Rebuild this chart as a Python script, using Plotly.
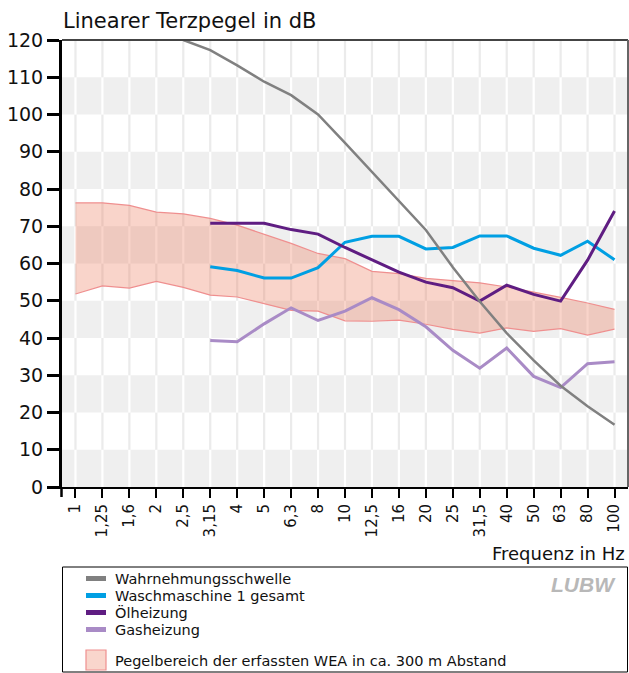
import plotly.graph_objects as go

# ---------------- data ----------------
FREQ_LABELS = ["1", "1,25", "1,6", "2", "2,5", "3,15", "4", "5", "6,3", "8", "10",
               "12,5", "16", "20", "25", "31,5", "40", "50", "63", "80", "100"]
Y_TICKS = list(range(0, 121, 10))

SERIES_NAMES = ["Wahrnehmungsschwelle", "Waschmaschine 1 gesamt", "Ölheizung", "Gasheizung"]
BAND_NAME = "Pegelbereich der erfassten WEA in ca. 300 m Abstand"

WAHRNEHMUNG = [None, None, None, None, 120.0, 117.3, 113.2, 108.8, 105.2, 100.0, 92.4,
               84.6, 77.0, 69.0, 59.0, 49.8, 41.3, 34.0, 27.2, 21.7, 16.7]
WASCHMASCHINE = [None, None, None, None, None, 59.1, 58.1, 56.1, 56.1, 58.9, 65.7,
                 67.3, 67.3, 63.9, 64.3, 67.4, 67.4, 64.1, 62.2, 66.0, 61.0]
OELHEIZUNG = [None, None, None, None, None, 70.8, 70.8, 70.8, 69.1, 67.9, 64.3,
              61.1, 57.7, 55.0, 53.5, 49.9, 54.2, 51.7, 49.9, 60.9, 74.1]
GASHEIZUNG = [None, None, None, None, None, 39.3, 39.0, 43.8, 48.1, 44.7, 47.2,
              50.8, 47.6, 43.0, 36.7, 31.9, 37.3, 29.7, 26.7, 33.1, 33.6]
WEA_MAX = [76.3, 76.3, 75.6, 73.8, 73.3, 72.1, 70.3, 67.9, 65.4, 62.7, 61.3,
           57.9, 57.3, 56.0, 55.5, 54.8, 53.7, 52.4, 50.9, 49.4, 47.7]
WEA_MIN = [51.8, 54.0, 53.4, 55.2, 53.6, 51.5, 51.0, 49.1, 47.4, 47.2, 44.6,
           44.5, 44.8, 43.7, 42.3, 41.3, 42.7, 41.8, 42.5, 40.8, 42.4]

# ---------------- style ----------------
FONT = "DejaVu Sans"
C_GRAY = "#808080"
C_BLUE = "#009fe3"
C_PURPLE = "#5f1d82"
C_LAV = "#a98bc6"
C_BAND_LINE = "#ef8f8f"
C_BAND_FILL = "rgba(234,112,80,0.30)"
C_BAND_SWATCH = "#f9d6cc"
BAND_GREY = "#efefef"

W, H = 629, 673
L, R, T, B = 62, 628, 40, 487
PW, PH = R - L, B - T


def fx(px):
    return (px - L) / PW


def fy(py):
    return (B - py) / PH


xpos = list(range(len(FREQ_LABELS)))

fig = go.Figure()
# WEA band
fig.add_trace(go.Scatter(x=xpos, y=WEA_MIN, mode="lines",
                         line=dict(color=C_BAND_LINE, width=1.2), showlegend=False,
                         hoverinfo="skip"))
fig.add_trace(go.Scatter(x=xpos, y=WEA_MAX, mode="lines", fill="tonexty",
                         fillcolor=C_BAND_FILL, line=dict(color=C_BAND_LINE, width=1.2),
                         name=BAND_NAME, showlegend=False))
# series (threshold curve on top)
fig.add_trace(go.Scatter(x=xpos, y=GASHEIZUNG, mode="lines", name=SERIES_NAMES[3],
                         line=dict(color=C_LAV, width=3), showlegend=False))
fig.add_trace(go.Scatter(x=xpos, y=WASCHMASCHINE, mode="lines", name=SERIES_NAMES[1],
                         line=dict(color=C_BLUE, width=3), showlegend=False))
fig.add_trace(go.Scatter(x=xpos, y=OELHEIZUNG, mode="lines", name=SERIES_NAMES[2],
                         line=dict(color=C_PURPLE, width=3), showlegend=False))
fig.add_trace(go.Scatter(x=xpos, y=WAHRNEHMUNG, mode="lines", name=SERIES_NAMES[0],
                         line=dict(color=C_GRAY, width=2.5), showlegend=False))

shapes = []
# alternating horizontal bands + vertical grid lines per band
for k in range(0, Y_TICKS[-1], 10):
    grey = (k // 10) % 2 == 0
    if grey:
        shapes.append(dict(type="rect", xref="paper", yref="y", x0=0, x1=1, y0=k, y1=k + 10,
                           fillcolor=BAND_GREY, line=dict(width=0), layer="below"))
    path = " ".join(f"M{i},{k} L{i},{k + 10}" for i in xpos)
    shapes.append(dict(type="path", xref="x", yref="y", path=path,
                       line=dict(color="#ffffff" if grey else "#ebebeb", width=2.2),
                       layer="below"))
# frame top / right
shapes.append(dict(type="line", xref="paper", yref="paper", x0=0, x1=1, y0=1, y1=1,
                   line=dict(color="#444444", width=2)))
shapes.append(dict(type="line", xref="paper", yref="paper", x0=1, x1=1, y0=0, y1=1,
                   line=dict(color="#666666", width=2)))
# left end tick below the x axis
shapes.append(dict(type="line", xref="paper", yref="paper", x0=fx(L - 0.5), x1=fx(L - 0.5),
                   y0=fy(B), y1=fy(B + 10), line=dict(color="black", width=2.5)))

# ---------------- custom legend ----------------
shapes.append(dict(type="rect", xref="paper", yref="paper", x0=fx(62.5), x1=fx(627.5),
                   y0=fy(567), y1=fy(672), line=dict(color="black", width=1),
                   fillcolor="rgba(0,0,0,0)"))
legend_rows = [(SERIES_NAMES[0], C_GRAY, 578.5), (SERIES_NAMES[1], C_BLUE, 595.5),
               (SERIES_NAMES[2], C_PURPLE, 612.5), (SERIES_NAMES[3], C_LAV, 629.5)]
annotations = []
for name, col, yy in legend_rows:
    shapes.append(dict(type="line", xref="paper", yref="paper", x0=fx(86), x1=fx(106),
                       y0=fy(yy), y1=fy(yy), line=dict(color=col, width=5)))
    annotations.append(dict(text=name, xref="paper", yref="paper", x=fx(113), y=fy(yy),
                            xanchor="left", yanchor="middle", showarrow=False,
                            font=dict(family=FONT, size=14.5, color="#111111")))
shapes.append(dict(type="rect", xref="paper", yref="paper", x0=fx(86), x1=fx(106),
                   y0=fy(650), y1=fy(670), fillcolor=C_BAND_SWATCH,
                   line=dict(color=C_BAND_LINE, width=1.2)))
annotations.append(dict(text=BAND_NAME, xref="paper", yref="paper", x=fx(113), y=fy(661),
                        xanchor="left", yanchor="middle", showarrow=False,
                        font=dict(family=FONT, size=14.5, color="#111111")))
annotations.append(dict(text="<b><i>LUBW</i></b>", xref="paper", yref="paper", x=fx(618),
                        y=fy(584), xanchor="right", yanchor="middle", showarrow=False,
                        font=dict(family="Liberation Sans", size=21, color="#b8b8b8")))
# titles
annotations.append(dict(text="Linearer Terzpegel in dB", xref="paper", yref="paper",
                        x=fx(61), y=fy(21), xanchor="left", yanchor="middle",
                        showarrow=False, font=dict(family=FONT, size=21, color="#111111")))
annotations.append(dict(text="Frequenz in Hz", xref="paper", yref="paper",
                        x=fx(627), y=fy(553), xanchor="right", yanchor="middle",
                        showarrow=False, font=dict(family=FONT, size=18, color="#111111")))

fig.update_layout(
    width=W, height=H,
    margin=dict(l=L, r=W - R, t=T, b=H - B),
    paper_bgcolor="white", plot_bgcolor="white",
    font=dict(family=FONT, color="#111111"),
    showlegend=False,
    shapes=shapes, annotations=annotations,
    xaxis=dict(range=[-0.5, len(FREQ_LABELS) - 0.5], tickmode="array", tickvals=xpos,
               ticktext=FREQ_LABELS, tickangle=-90, ticks="outside", ticklen=9,
               tickwidth=2, tickcolor="black", showline=True, linewidth=2,
               linecolor="black", showgrid=False, zeroline=False,
               tickfont=dict(family=FONT, size=15, color="#111111"), fixedrange=True),
    yaxis=dict(range=[0, 120], tickmode="array", tickvals=Y_TICKS, ticks="outside",
               ticklen=12, tickwidth=2.5, tickcolor="black", showline=True, linewidth=3,
               linecolor="black", showgrid=False, zeroline=False,
               tickfont=dict(family=FONT, size=19, color="#111111"), fixedrange=True),
)

fig.write_html("out.html", post_script="document.body.style.margin='0px';",
               config={"displayModeBar": False})
